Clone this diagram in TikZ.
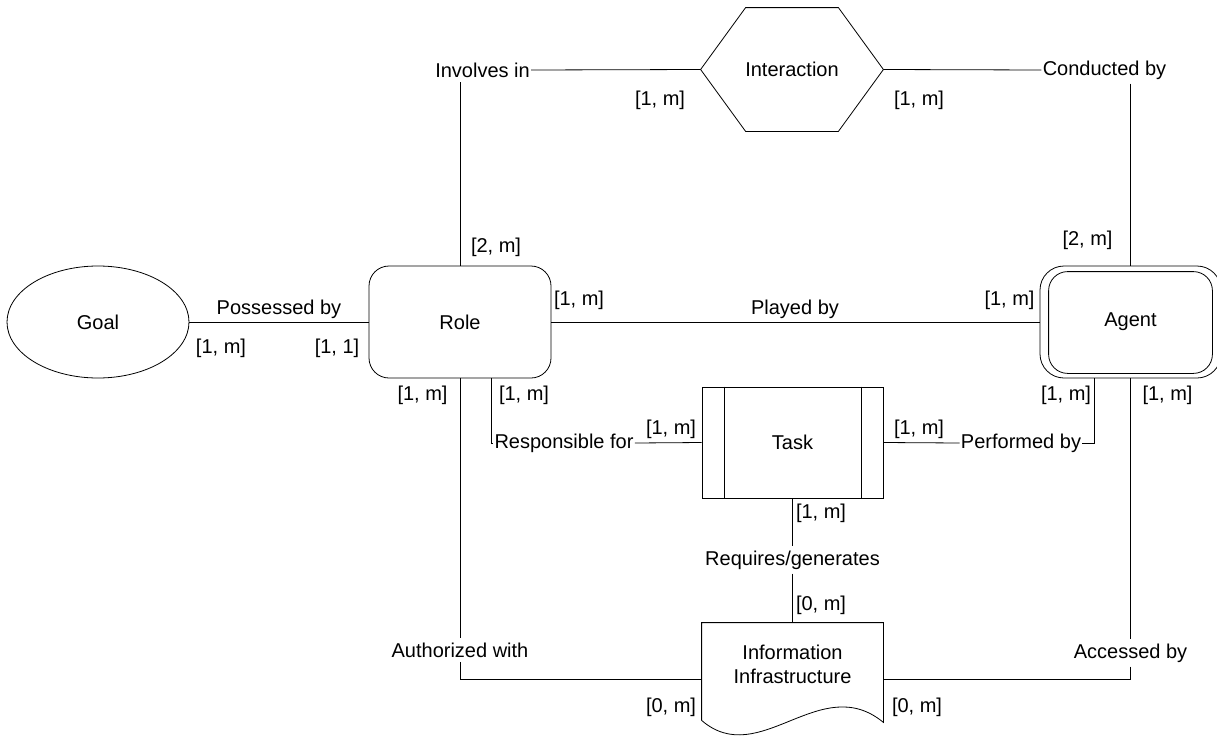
\documentclass[tikz,border=0pt]{standalone}
\usepackage{fontspec}
\setmainfont{Liberation Sans}
\usetikzlibrary{shapes.geometric,positioning,calc}

\begin{document}
\begin{tikzpicture}[x=1pt,y=-1pt,line width=0.8pt,
  every node/.style={font=\fontsize{20}{24}\selectfont},
  entity/.style={draw,minimum width=182pt,minimum height=112pt,inner sep=0pt},
  rel/.style={inner xsep=1pt,inner ysep=4pt},
  card/.style={inner sep=2pt}]
  \useasboundingbox (0,0) rectangle (1217,736);

  % entities
  \node[entity,ellipse] (goal) at (98,322) {Goal};
  \node[entity,rounded corners=20pt] (role) at (460,322) {Role};
  \node[entity,minimum width=181pt,rounded corners=24pt] (agent) at (1130.5,322) {Agent};
  \draw[rounded corners=19pt] ([xshift=9pt,yshift=-6pt]agent.north west) rectangle ([xshift=-9pt,yshift=5pt]agent.south east);
  \node[minimum width=182pt,minimum height=123pt,inner sep=0pt] (hex) at (792,69.5) {Interaction};
  \draw (hex.west) -- ([xshift=45pt]hex.north west) -- ([xshift=-45pt]hex.north east) -- (hex.east)
        -- ([xshift=-45pt]hex.south east) -- ([xshift=45pt]hex.south west) -- cycle;
  \node[draw,minimum width=181pt,minimum height=111pt,inner sep=0pt] (task) at (792.5,442.5) {Task};
  \draw ([xshift=23pt]task.north west) -- ([xshift=23pt]task.south west)
        ([xshift=-22pt]task.north east) -- ([xshift=-22pt]task.south east);
  \node[minimum width=181pt,minimum height=82pt,inner sep=0pt,align=center] (info) at (792.5,664) {Information\\Infrastructure};
  \draw ([yshift=-15pt]info.south west) -- (info.north west) -- (info.north east) -- ([yshift=-17pt]info.south east)
        .. controls +(-63,-52) and +(58,50) .. ([yshift=-15pt]info.south west);

  % relation names
  \node[rel] (inv) at (482.5,70) {Involves in};
  \node[rel] (cond) at (1104.5,70) {Conducted by};
  \node[rel] (poss) at (279,309) {Possessed by};
  \node[rel] (play) at (795,309) {Played by};
  \node[rel] (resp) at (564,443) {Responsible for};
  \node[rel] (perf) at (1021,443) {Performed by};
  \node[rel] (req) at (792.5,560) {Requires/generates};
  \node[rel] (auth) at (460,650) {Authorized with};
  \node[rel] (acc) at (1130.5,653) {Accessed by};

  % cardinalities
  \node[card] (cHexL) at (660,100) {[1, m]};
  \node[card] (cHexR) at (919,100) {[1, m]};
  \node[card] (cRoleT) at (496,247) {[2, m]};
  \node[card] (cAgentT) at (1087.5,240) {[2, m]};
  \node[card] (cGoal) at (221,348) {[1, m]};
  \node[card] (cRoleW) at (337,348) {[1, 1]};
  \node[card] (cRoleE) at (579,300) {[1, m]};
  \node[card] (cAgentW) at (1009.5,300) {[1, m]};
  \node[card] (cRoleS1) at (422.5,395) {[1, m]};
  \node[card] (cRoleS2) at (524,395) {[1, m]};
  \node[card] (cTaskW) at (671,429) {[1, m]};
  \node[card] (cTaskE) at (919,429) {[1, m]};
  \node[card] (cAgentS1) at (1066,395) {[1, m]};
  \node[card] (cAgentS2) at (1167.5,395) {[1, m]};
  \node[card] (cTaskS) at (821,513) {[1, m]};
  \node[card] (cInfoN) at (821,605) {[0, m]};
  \node[card] (cInfoW) at (671,707) {[0, m]};
  \node[card] (cInfoE) at (917,707) {[0, m]};

  % connectors
  \coordinate (roleS2) at ([xshift=31pt]role.south);
  \coordinate (agentS1) at ([xshift=-36pt]agent.south);
  \draw (goal.east) -- (role.west);
  \draw (role.east) -- (agent.west);
  \draw (role.north) -- (role.north |- inv.south);
  \draw (inv.east) -- (hex.west);
  \draw (hex.east) -- (cond.west);
  \draw (cond.south -| agent.north) -- (agent.north);
  \draw (roleS2) |- (resp.west);
  \draw (resp.east) -- (task.west);
  \draw (task.east) -- (perf.west);
  \draw (perf.east) -| (agentS1);
  \draw (task.south) -- (req.north);
  \draw (req.south) -- (info.north);
  \draw (role.south) -- (auth.north);
  \draw (auth.south) |- ([yshift=-15pt]info.west);
  \draw (agent.south) -- (acc.north);
  \draw (acc.south) |- ([yshift=-15pt]info.east);
\end{tikzpicture}
\end{document}
